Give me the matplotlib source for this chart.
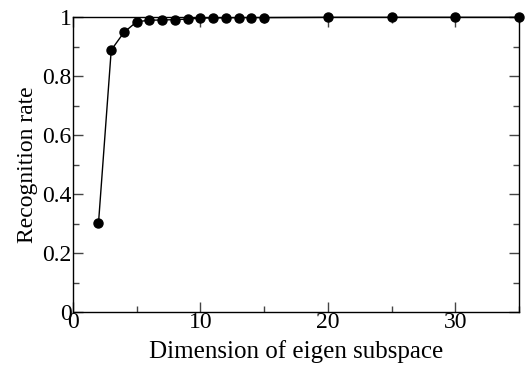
import matplotlib
matplotlib.use('Agg')
import matplotlib.pyplot as plt
from matplotlib.ticker import MultipleLocator

# dimension of eigen subspace vs recognition rate
dims = [2, 3, 4, 5, 6, 7, 8, 9, 10, 11, 12, 13, 14, 15, 20, 25, 30, 35]
rates = [0.302, 0.889, 0.949, 0.985, 0.99, 0.991, 0.992, 0.994, 0.997,
         0.998, 0.998, 0.999, 0.999, 0.999, 1.0, 1.0, 1.0, 1.0]

x_ticks = [0, 10, 20, 30]
y_ticks = [0, 0.2, 0.4, 0.6, 0.8, 1.0]
y_tick_labels = ['0', '0.2', '0.4', '0.6', '0.8', '1']

plt.rcParams['font.family'] = ['Liberation Serif', 'DejaVu Serif']

fig = plt.figure(figsize=(5.26, 3.65), dpi=100)
ax = fig.add_axes([0.1388, 0.1444, 0.8479, 0.8082])

ax.plot(dims, rates, color='black', linewidth=1, marker='o',
        markersize=6.5, clip_on=False, zorder=3)

ax.set_xlim(0, 35)
ax.set_ylim(0, 1)
ax.set_xticks(x_ticks)
ax.set_yticks(y_ticks)
ax.set_yticklabels(y_tick_labels)
ax.xaxis.set_minor_locator(MultipleLocator(5))
ax.yaxis.set_minor_locator(MultipleLocator(0.1))

ax.tick_params(which='both', direction='in', top=True, right=True,
               labelsize=17, color='#444444')
ax.tick_params(which='major', length=7, width=1)
ax.tick_params(which='minor', length=4, width=1)
ax.tick_params(axis='x', pad=0)
ax.tick_params(axis='y', pad=1)
for s in ax.spines.values():
    s.set_linewidth(1)

ax.set_xlabel('Dimension of eigen subspace', fontsize=18, labelpad=5)
ax.set_ylabel('Recognition rate', fontsize=17, labelpad=3)

fig.savefig('out.png', dpi=100)
